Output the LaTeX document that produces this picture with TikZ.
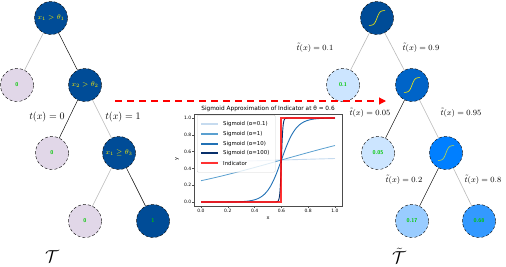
\documentclass[tikz,border=0pt]{standalone}
\usepackage{fontspec}
\newfontfamily\plotfont{DejaVu Sans}
\usetikzlibrary{arrows.meta}
\definecolor{treedark}{RGB}{0,76,151}
\definecolor{leafgray}{RGB}{225,215,232}
\definecolor{lightblue}{RGB}{204,229,255}
\definecolor{midblue}{RGB}{0,100,200}
\definecolor{brightblue}{RGB}{0,127,255}
\definecolor{paleblue}{RGB}{153,204,255}
\definecolor{skyblue}{RGB}{51,153,255}
\definecolor{leafgreen}{RGB}{0,200,0}
\definecolor{cA}{HTML}{C6DBEF}
\definecolor{cB}{HTML}{5AA0D0}
\definecolor{cC}{HTML}{2171B5}
\definecolor{cD}{HTML}{08306B}
\definecolor{sgyel}{RGB}{200,220,60}
\begin{document}
\begin{tikzpicture}[x=1pt,y=-1pt,
  tn/.style={circle, draw=black, densely dashed, line width=0.4pt, minimum size=33pt, inner sep=0pt},
  innernode/.style={tn, fill=treedark, text=yellow, font=\scriptsize},
  leafnode/.style={tn, font=\fontsize{5.5}{6}\sffamily\bfseries, text=leafgreen},
  bedge/.style={draw=black, line width=0.45pt},
  gedge/.style={draw=gray!55, line width=0.6pt},
  elab/.style={font=\normalsize, inner sep=0pt},
  elabs/.style={font=\fontsize{8.5}{10}\selectfont, inner sep=0pt},
  sglyph/.style={line width=0.6pt},
  pf/.style={font=\plotfont\fontsize{4.5}{5}\selectfont, inner sep=0.5pt},
  lg/.style={font=\plotfont\fontsize{5.4}{6}\selectfont, anchor=west, inner sep=0pt},
  axc/.style={draw=black!70, line width=0.4pt},
]
\useasboundingbox (0,0) rectangle (506,266);

% ---------- left tree ----------
\node[innernode] (r1) at (51,18) {$x_1>\theta_1$};
\node[leafnode, fill=leafgray] (l1) at (17,85) {0};
\node[innernode] (r2) at (85,85) {$x_2>\theta_2$};
\node[leafnode, fill=leafgray] (l2) at (52,153) {0};
\node[innernode] (r3) at (119,153) {$x_1\geq\theta_3$};
\node[leafnode, fill=leafgray] (l3) at (85,221) {0};
\node[leafnode, fill=treedark] (l4) at (153,221) {1};

\draw[gedge] (r1) -- (l1);
\draw[bedge] (r1) -- (r2);
\draw[bedge] (r2) -- (l2);
\draw[gedge] (r2) -- (r3);
\draw[gedge] (r3) -- (l3);
\draw[bedge] (r3) -- (l4);

\node[elab] (e1) at (47,117) {$t(x)=0$};
\node[elab] (e2) at (123,117) {$t(x)=1$};
\node[font=\LARGE] (tl) at (52,257) {$\mathcal{T}$};

% ---------- right tree ----------
\node[tn, fill=treedark] (R1) at (377,18) {};
\node[leafnode, fill=lightblue] (L1) at (343,85) {0.1};
\node[tn, fill=midblue] (R2) at (412,85) {};
\node[leafnode, fill=lightblue] (L2) at (378,153) {0.05};
\node[tn, fill=brightblue] (R3) at (446,153) {};
\node[leafnode, fill=paleblue] (L3) at (412,221) {0.17};
\node[leafnode, fill=skyblue] (L4) at (479,221) {0.68};

\draw[sglyph, yellow, shift={(R1)}] plot[domain=-8:8, samples=30] (\x, {-7.5*tanh(0.35*\x)});
\draw[sglyph, yellow, shift={(R2)}] plot[domain=-8:8, samples=30] (\x, {-7.5*tanh(0.35*\x)});
\draw[sglyph, sgyel, shift={(R3)}] plot[domain=-8:8, samples=30] (\x, {-7.5*tanh(0.35*\x)});

\draw[gedge] (R1) -- (L1);
\draw[gedge] (R1) -- (R2);
\draw[bedge] (R2) -- (L2);
\draw[gedge] (R2) -- (R3);
\draw[bedge] (R3) -- (L3);
\draw[gedge] (R3) -- (L4);

\node[elabs] (f1) at (315,48) {$\tilde{t}(x)=0.1$};
\node[elabs] (f2) at (421,48) {$\tilde{t}(x)=0.9$};
\node[elabs] (f3) at (370,113) {$\tilde{t}(x)=0.05$};
\node[elabs] (f4) at (461,113) {$\tilde{t}(x)=0.95$};
\node[elabs] (f5) at (404,180) {$\tilde{t}(x)=0.2$};
\node[elabs] (f6) at (483,180) {$\tilde{t}(x)=0.8$};
\node[font=\LARGE] (tr) at (399,256) {$\tilde{\mathcal{T}}$};

% ---------- red arrow ----------
\coordinate (as) at (115,101);
\coordinate (ae) at (386,101);
\draw[red, line width=1.1pt, dash pattern=on 7pt off 5pt, -{Triangle[length=7pt,width=7pt]}] (as) -- (ae);

% ---------- plot ----------
\node[font=\plotfont\fontsize{5.8}{7}\selectfont, inner sep=0pt] (ptitle) at (268,109) {Sigmoid Approximation of Indicator at θ = 0.6};
\begin{scope}[shift={(201,202)}, x=134pt, y=84pt]
  \draw[cA, line width=0.9pt] plot[domain=0:1, samples=20] (\x, {1/(1+exp(-0.18*(\x-0.6)))});
  \draw[cB, line width=0.8pt] plot[domain=0:1, samples=40] (\x, {1/(1+exp(-1.8*(\x-0.6)))});
  \draw[cC, line width=0.9pt] (0,0) -- plot[domain=0.1:1, samples=120] (\x, {1/(1+exp(-18*(\x-0.6)))});
  \draw[cD, line width=0.9pt] (0,0) -- plot[domain=0.55:0.65, samples=60] (\x, {1/(1+exp(-180*(\x-0.6)))}) -- (1,1);
  \draw[red, opacity=0.8, line width=2pt] (0,0) -- (0.6,0) -- (0.6,1) -- (1,1);
  \draw[axc] (-0.05,-0.05) rectangle (1.05,1.05);
  \foreach \t/\lab [count=\i] in {0/0.0,0.2/0.2,0.4/0.4,0.6/0.6,0.8/0.8,1/1.0}{
    \draw[axc] (\t,-0.05) -- (\t,-0.075);
    \node[pf, anchor=north] (xt\i) at (\t,-0.075) {\lab};
    \draw[axc] (-0.05,\t) -- (-0.068,\t);
    \node[pf, anchor=east] (yt\i) at (-0.068,\t) {\lab};
  }
\end{scope}
\node[font=\plotfont\fontsize{5}{6}\selectfont, inner sep=0pt] (xlab) at (268,218) {x};
\node[font=\plotfont\fontsize{5}{6}\selectfont, inner sep=0pt, rotate=90] (ylab) at (177,159) {y};

% legend
\node[draw=gray!35, fill=white, fill opacity=0.8, rounded corners=1pt, minimum width=78pt, minimum height=57pt, inner sep=0pt, anchor=north west] (legbox) at (197,115) {};
\foreach \y/\c/\w/\txt [count=\i] in {124/cA/1.3pt/{Sigmoid (α=0.1)},134/cB/1.1pt/{Sigmoid (α=1)},144/cC/1.3pt/{Sigmoid (α=10)},153/cD/1.1pt/{Sigmoid (α=100)}}{
  \coordinate (la\i) at (201,\y);
  \coordinate (lb\i) at (218,\y);
  \draw[\c, line width=\w] (la\i) -- (lb\i);
  \node[lg] (lt\i) at (223,\y) {\txt};
}
\coordinate (la5) at (201,163);
\coordinate (lb5) at (218,163);
\draw[red, opacity=0.8, line width=2pt] (la5) -- (lb5);
\node[lg] (lt5) at (223,163) {Indicator};
\end{tikzpicture}
\end{document}
